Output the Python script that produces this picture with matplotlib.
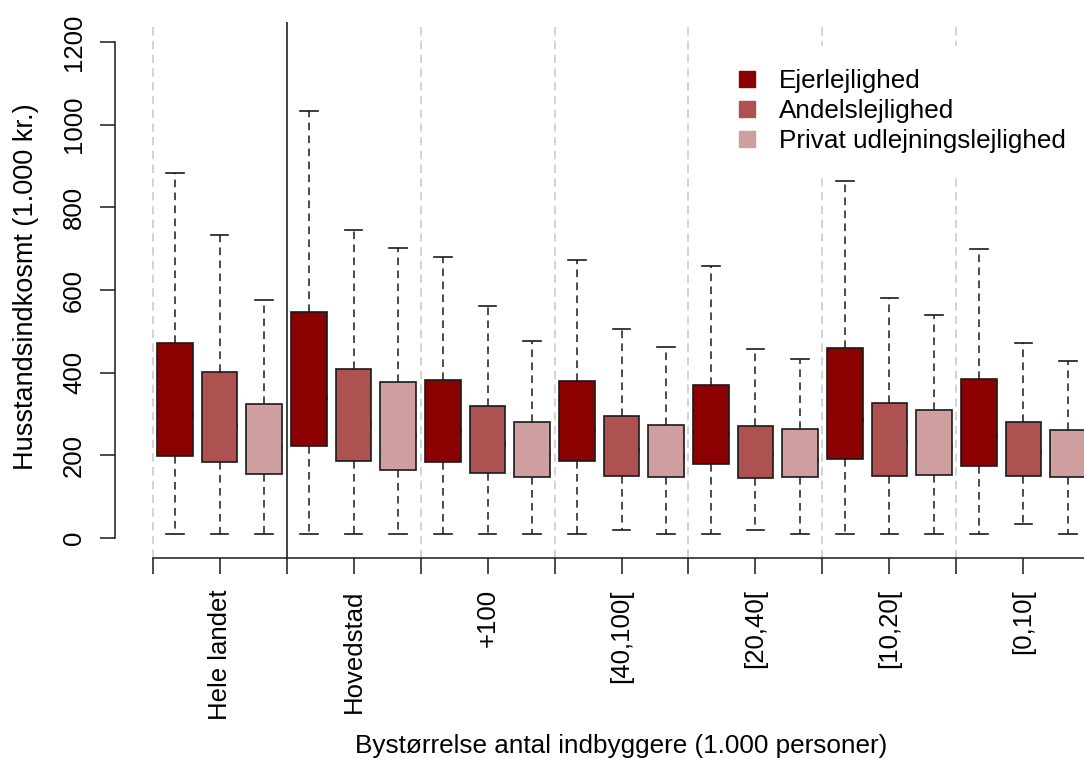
import matplotlib
matplotlib.use("Agg")
import matplotlib.pyplot as plt
from matplotlib.lines import Line2D

plt.rcParams['font.family'] = ['Liberation Sans', 'DejaVu Sans']

groups = ["Hele landet", "Hovedstad", "+100", "[40,100[", "[20,40[", "[10,20[", "[0,10["]
types = ["Ejerlejlighed", "Andelslejlighed", "Privat udlejningslejlighed"]
colors = ["#8b0000", "#ad5151", "#cf9e9e"]

# box stats (1.000 kr.)
ejer_low = [10, 10, 10, 10, 10, 9, 10]
ejer_q1 = [199, 224, 184, 187, 180, 191, 174]
ejer_med = [297, 342, 260, 262, 255, 286, 249]
ejer_q3 = [471, 547, 382, 380, 370, 460, 384]
ejer_high = [883, 1032, 679, 672, 659, 864, 700]

andel_low = [10, 10, 10, 20, 20, 10, 34]
andel_q1 = [184, 187, 158, 150, 145, 151, 150]
andel_med = [272, 277, 231, 214, 204, 233, 211]
andel_q3 = [402, 410, 320, 295, 272, 326, 281]
andel_high = [733, 746, 561, 506, 457, 581, 471]

privat_low = [10, 11, 10, 10, 10, 10, 10]
privat_q1 = [156, 165, 149, 148, 148, 153, 148]
privat_med = [221, 249, 204, 199, 192, 220, 190]
privat_q3 = [324, 378, 281, 274, 263, 309, 261]
privat_high = [576, 702, 477, 461, 433, 539, 428]

series = [
    (ejer_low, ejer_q1, ejer_med, ejer_q3, ejer_high),
    (andel_low, andel_q1, andel_med, andel_q3, andel_high),
    (privat_low, privat_q1, privat_med, privat_q3, privat_high),
]

stats, positions, facecols = [], [], []
for g in range(len(groups)):
    for t, (lo, q1, med, q3, hi) in enumerate(series):
        stats.append(dict(whislo=lo[g], q1=q1[g], med=med[g], q3=q3[g],
                          whishi=hi[g], fliers=[]))
        positions.append(3 * g + t + 1)
        facecols.append(colors[t])

W, H = 1084, 758
fig = plt.figure(figsize=(W / 100, H / 100), dpi=100)
ax = fig.add_axes([115 / W, (H - 558) / H, (1128 - 115) / W, (558 - 22) / H])

n = len(positions)
# group separators
for k in range(len(groups)):
    xb = 3 * k + 0.5
    if k == 1:
        ax.axvline(xb, color="#333333", lw=1.3, zorder=1)
    else:
        ax.axvline(xb, color="#c8c8c8", lw=1.1, ls=(0, (5.5, 3.5)), zorder=1)

bp = ax.bxp(stats, positions=positions, widths=0.8, capwidths=0.4,
            showfliers=False, patch_artist=True,
            boxprops=dict(edgecolor="#1a1a1a", linewidth=1.2),
            whiskerprops=dict(color="#1a1a1a", linewidth=1.1, linestyle=(0, (5, 3.5))),
            capprops=dict(color="#1a1a1a", linewidth=1.2),
            medianprops=dict(color="black", linewidth=3.4, solid_capstyle="butt"))
for patch, c in zip(bp['boxes'], facecols):
    patch.set_facecolor(c)
    patch.set_zorder(3)

ax.set_xlim(-0.34, n + 1.34)
ax.set_ylim(-48, 1248)

for s in ['top', 'right']:
    ax.spines[s].set_visible(False)
ax.spines['left'].set_bounds(0, 1200)
ax.spines['bottom'].set_bounds(0.5, n + 0.5)
for s in ['left', 'bottom']:
    ax.spines[s].set_linewidth(1.1)
    ax.spines[s].set_color("#1a1a1a")

ax.set_yticks(range(0, 1201, 200))
ax.tick_params(axis='y', labelrotation=90, labelsize=18.5, length=10.8,
               width=1.1, pad=10, color="#1a1a1a")
for lab in ax.get_yticklabels():
    lab.set_va('center')

centers = [3 * g + 2 for g in range(len(groups))]
ax.set_xticks(centers)
ax.set_xticklabels(groups, rotation=90, fontsize=18.5)
ax.set_xticks([3 * k + 0.5 for k in range(len(groups) + 1)], minor=True)
ax.tick_params(axis='x', which='both', length=11.5, width=1.1, pad=11, color="#1a1a1a")

fig.text(26 / W, 1 - 287 / H, "Husstandsindkosmt (1.000 kr.)", rotation=90,
         ha='center', va='center', fontsize=19.5)
fig.text(621.5 / W, 1 - 753 / H, "Bystørrelse antal indbyggere (1.000 personer)",
         ha='center', va='baseline', fontsize=18.8)

handles = [Line2D([], [], marker='s', ls='none', color=c, markersize=12) for c in colors]
leg = ax.legend(handles, types, loc='upper left',
                bbox_to_anchor=(710.5 / W, 1 - 46 / H), bbox_transform=fig.transFigure,
                borderaxespad=0, borderpad=0.88, handlelength=1.0, handletextpad=0.75,
                labelspacing=0.23, fontsize=18.8, frameon=True, fancybox=False,
                facecolor='white', edgecolor='white', framealpha=1)
leg.set_zorder(5)

fig.savefig("out.png", dpi=100)
